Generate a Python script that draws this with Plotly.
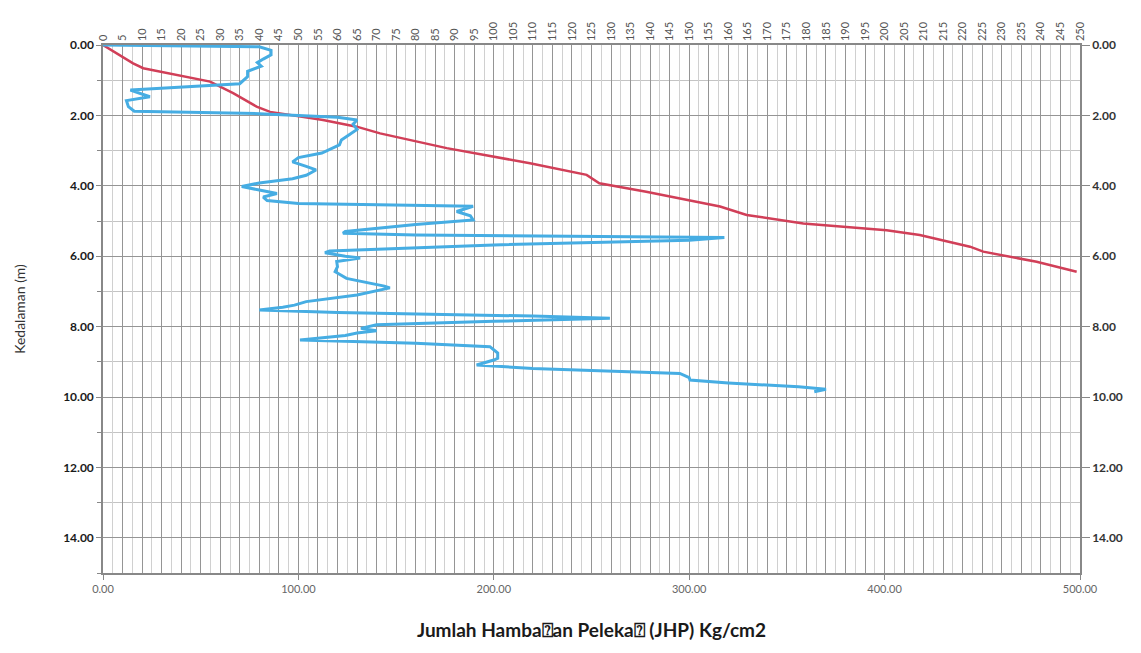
import plotly.graph_objects as go

# Sondir (CPT) record: cone resistance qc (top axis) and total friction JHP (bottom axis)
qc_depth = [0.00, 0.05, 0.15, 0.28, 0.40, 0.50, 0.60, 0.75, 0.90, 1.00, 1.10, 1.28, 1.40, 1.47,
            1.58, 1.75, 1.88, 1.95, 2.05, 2.13, 2.25, 2.40, 2.55, 2.70, 2.84, 3.07, 3.20, 3.32,
            3.45, 3.55, 3.70, 3.80, 3.92, 4.02, 4.12, 4.22, 4.32, 4.42, 4.50, 4.58, 4.73, 4.85,
            4.97, 5.10, 5.30, 5.35, 5.40, 5.47, 5.55, 5.68, 5.85, 5.90, 6.00, 6.05, 6.15, 6.30,
            6.44, 6.63, 6.85, 6.90, 7.10, 7.29, 7.39, 7.45, 7.53, 7.60, 7.70, 7.76, 7.85, 7.95,
            8.05, 8.12, 8.18, 8.25, 8.38, 8.47, 8.57, 8.75, 8.90, 8.95, 9.09, 9.19, 9.33, 9.45,
            9.52, 9.60, 9.71, 9.78, 9.85]
qc_value = [0, 40, 43, 43, 41, 39.5, 40.5, 37, 37, 36, 35, 7, 10, 12,
            6, 6.5, 8, 40, 60, 65, 64, 65, 63, 61, 60.5, 56, 50, 48.5,
            52, 54.5, 52, 48.5, 40, 35.5, 40, 44.5, 41, 42, 50, 94.7, 90.5, 94,
            94.7, 80, 62, 61.4, 80, 159, 150, 100, 58, 56.8, 62, 65.8, 59.8, 60,
            59.4, 62.3, 72, 73.4, 65, 52, 49, 46, 40, 60, 110, 129.7, 100, 70,
            66, 70, 65, 62, 50.4, 80, 99, 101, 101, 100, 95.6, 110, 147.6, 150,
            150.2, 160, 178, 185, 182]

jhp_depth = [0.00, 0.52, 0.66, 0.85, 1.04, 1.37, 1.75, 1.90, 2.13, 2.32, 2.51, 2.93, 3.36,
             3.69, 3.93, 4.17, 4.59, 4.83, 5.07, 5.26, 5.40, 5.73, 5.87, 6.16, 6.44]
jhp_value = [0, 15.4, 20.6, 37.7, 54.8, 66.6, 78.6, 85.5, 112.6, 129.8, 141.8, 175.9, 218.5,
             247.5, 254, 278, 315.8, 329.4, 358.4, 401, 418, 443.7, 450.5, 477.8, 498.3]

depth_ticks = [0, 2, 4, 6, 8, 10, 12, 14]
depth_labels = ["%.2f" % d for d in depth_ticks]
jhp_ticks = [0, 100, 200, 300, 400, 500]
jhp_labels = ["%.2f" % v for v in jhp_ticks]
qc_ticks = list(range(0, 255, 5))

FONT = "Lato"

fig = go.Figure()

fig.add_trace(go.Scatter(
    x=qc_value, y=qc_depth, xaxis="x2", yaxis="y",
    mode="lines", line=dict(color="#46ADE3", width=3),
    showlegend=False, hoverinfo="skip"))

fig.add_trace(go.Scatter(
    x=jhp_value, y=jhp_depth, xaxis="x", yaxis="y",
    mode="lines", line=dict(color="#D13F58", width=2.5),
    showlegend=False, hoverinfo="skip"))

# invisible trace to carry the right-hand depth axis
fig.add_trace(go.Scatter(
    x=[None], y=[None], xaxis="x", yaxis="y2",
    mode="lines", showlegend=False, hoverinfo="skip"))

fig.update_layout(
    width=1141, height=653,
    margin=dict(l=103, r=61, t=45, b=80),
    paper_bgcolor="white", plot_bgcolor="white",
    font=dict(family=FONT, color="#333"),
    xaxis=dict(
        range=[0, 500], tickvals=jhp_ticks, ticktext=jhp_labels,
        ticks="outside", ticklen=5, tickcolor="#888",
        tickfont=dict(size=11, color="#666"),
        showgrid=False, zeroline=False,
        showline=True, linecolor="#888", linewidth=1.5, mirror=False,
        title=dict(text="Jumlah Hamba\u2370an Peleka\u2370 (JHP) Kg/cm2",
                   font=dict(size=19, family=FONT, color="#1a1a1a", weight="bold"),
                   standoff=30),
    ),
    xaxis2=dict(
        overlaying="x", side="top", anchor="y",
        range=[0, 250], tickvals=qc_ticks, ticktext=[str(v) for v in qc_ticks],
        tickangle=-90, ticks="", tickfont=dict(size=11, color="#555"),
        showgrid=True, gridcolor="#959595", gridwidth=1.3,
        minor=dict(dtick=2.5, showgrid=True, gridcolor="#d0d0d0", gridwidth=1),
        zeroline=False, showline=True, linecolor="#888", linewidth=1.5,
    ),
    yaxis=dict(
        range=[15, 0], tickvals=depth_ticks, ticktext=depth_labels,
        ticks="outside", ticklen=5, tickcolor="#888",
        tickfont=dict(size=12, color="#1a1a1a", family=FONT, weight="bold"),
        showgrid=True, gridcolor="#959595", gridwidth=1.3,
        minor=dict(dtick=1, ticks="outside", ticklen=4, tickcolor="#888",
                   showgrid=True, gridcolor="#c4c4c4", gridwidth=1),
        zeroline=False, showline=True, linecolor="#888", linewidth=1.5,
        title=dict(text="Kedalaman (m)", font=dict(size=14, color="#333"), standoff=34),
    ),
    yaxis2=dict(
        overlaying="y", side="right", anchor="x",
        range=[15, 0], tickvals=depth_ticks, ticktext=depth_labels,
        ticks="outside", ticklen=8, tickcolor="#888",
        tickfont=dict(size=12, color="#333", weight="bold"),
        showgrid=False, zeroline=False,
        showline=True, linecolor="#888", linewidth=1.5,
    ),
)

fig.write_html("out.html")
